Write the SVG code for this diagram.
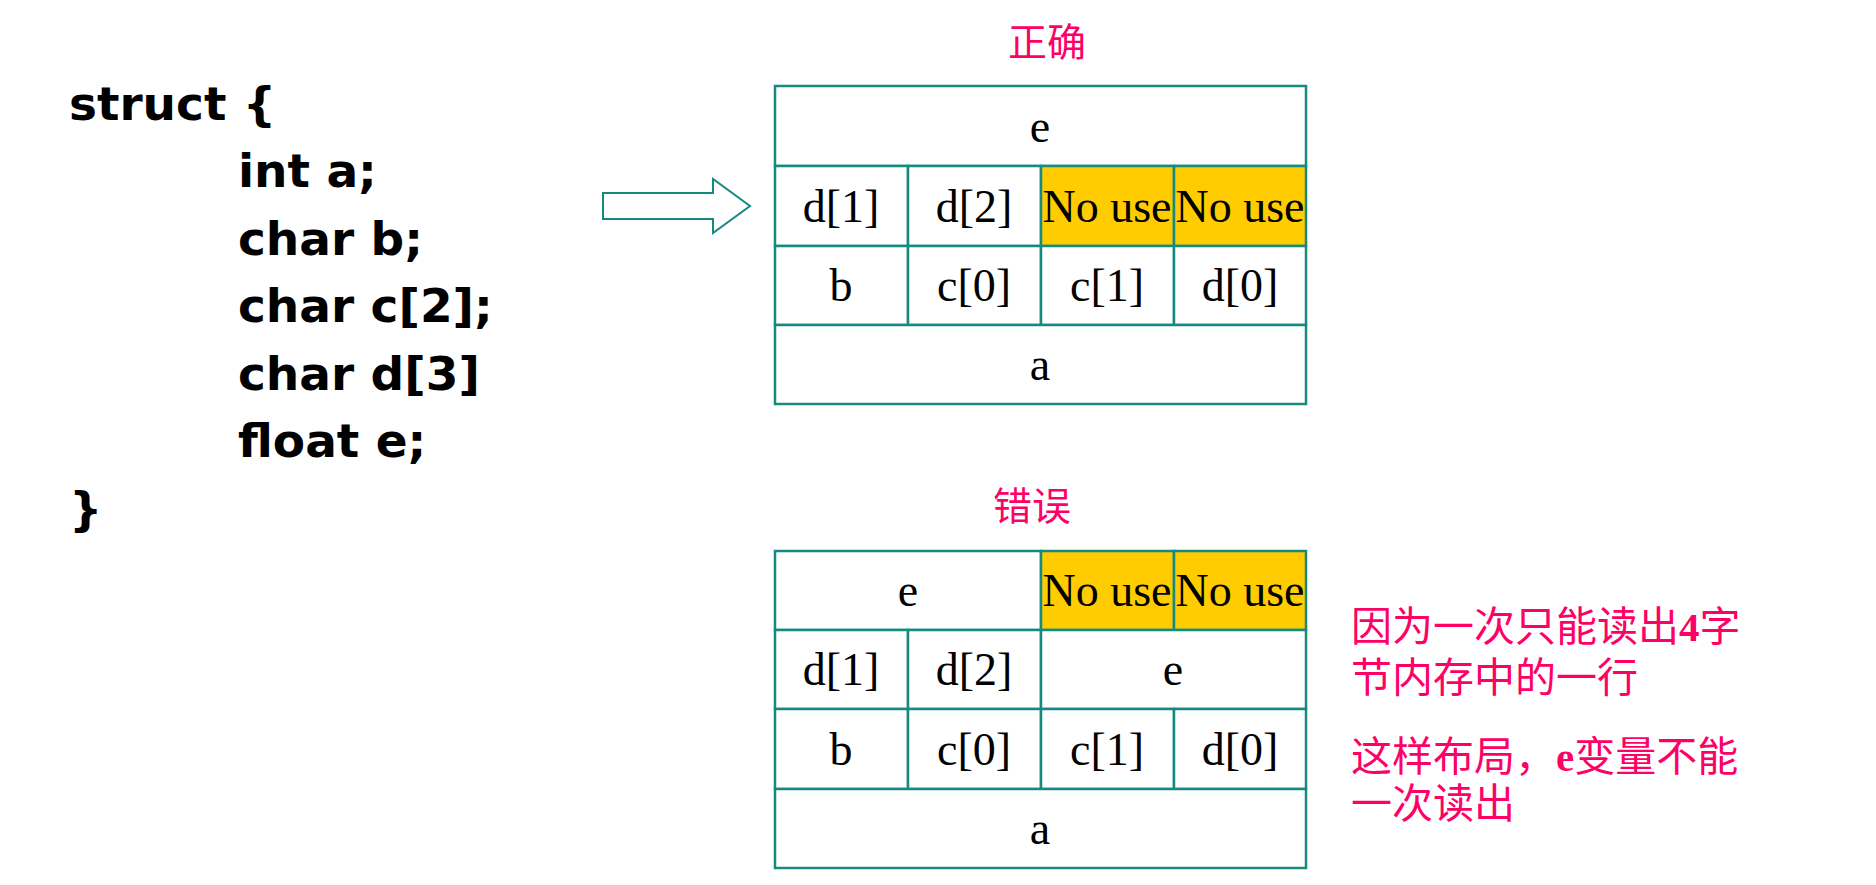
<svg xmlns="http://www.w3.org/2000/svg" width="1876" height="885" viewBox="0 0 1876 885">
<style>
.code{font-family:"DejaVu Sans","Verdana",sans-serif;font-weight:bold;font-size:47px;fill:#000}
.cell{fill:#fff;stroke:#178a80;stroke-width:2.5}
.hl{fill:#ffcc00;stroke:#178a80;stroke-width:2.5}
.t{font-family:"Liberation Serif","Times New Roman",serif;font-size:46px;fill:#000;text-anchor:middle}
.title{font-family:"Noto Sans CJK SC",sans-serif;font-size:39px;fill:#ff0066;text-anchor:middle}
.note{font-family:"Liberation Serif","Noto Sans CJK SC",sans-serif;font-size:41px;fill:#ff0066}
.b{font-family:"Liberation Serif",serif;font-weight:bold}
</style>
<rect width="1876" height="885" fill="#fff"/>
<g id="code">
<text class="code" x="69" y="120">struct {</text>
<text class="code" x="238" y="187">int a;</text>
<text class="code" x="238" y="255">char b;</text>
<text class="code" x="238" y="322">char c[2];</text>
<text class="code" x="238" y="390">char d[3]</text>
<text class="code" x="238" y="457">float e;</text>
<text class="code" x="69" y="525">}</text>
</g>
<g id="connectors">
<polygon points="603,193 713,193 713,179 750,206 713,233 713,219 603,219" fill="#fff" stroke="#178a80" stroke-width="2"/>
</g>
<g id="title-correct">
<text class="title" x="1047" y="56">正确</text>
</g>
<g id="table-correct">
<rect class="cell" x="775" y="86" width="531" height="80"/>
<text class="t" x="1040" y="142">e</text>
<rect class="cell" x="775" y="166" width="133" height="80"/>
<text class="t" x="841" y="222">d[1]</text>
<rect class="cell" x="908" y="166" width="133" height="80"/>
<text class="t" x="974" y="222">d[2]</text>
<rect class="hl" x="1041" y="166" width="133" height="80"/>
<text class="t" x="1107" y="222">No use</text>
<rect class="hl" x="1174" y="166" width="132" height="80"/>
<text class="t" x="1240" y="222">No use</text>
<rect class="cell" x="775" y="246" width="133" height="79"/>
<text class="t" x="841" y="301">b</text>
<rect class="cell" x="908" y="246" width="133" height="79"/>
<text class="t" x="974" y="301">c[0]</text>
<rect class="cell" x="1041" y="246" width="133" height="79"/>
<text class="t" x="1107" y="301">c[1]</text>
<rect class="cell" x="1174" y="246" width="132" height="79"/>
<text class="t" x="1240" y="301">d[0]</text>
<rect class="cell" x="775" y="325" width="531" height="79"/>
<text class="t" x="1040" y="380">a</text>
</g>
<g id="title-wrong">
<text class="title" x="1032" y="520">错误</text>
</g>
<g id="table-wrong">
<rect class="cell" x="775" y="551" width="266" height="79"/>
<text class="t" x="908" y="606">e</text>
<rect class="hl" x="1041" y="551" width="133" height="79"/>
<text class="t" x="1107" y="606">No use</text>
<rect class="hl" x="1174" y="551" width="132" height="79"/>
<text class="t" x="1240" y="606">No use</text>
<rect class="cell" x="775" y="630" width="133" height="79"/>
<text class="t" x="841" y="685">d[1]</text>
<rect class="cell" x="908" y="630" width="133" height="79"/>
<text class="t" x="974" y="685">d[2]</text>
<rect class="cell" x="1041" y="630" width="265" height="79"/>
<text class="t" x="1173" y="685">e</text>
<rect class="cell" x="775" y="709" width="133" height="80"/>
<text class="t" x="841" y="765">b</text>
<rect class="cell" x="908" y="709" width="133" height="80"/>
<text class="t" x="974" y="765">c[0]</text>
<rect class="cell" x="1041" y="709" width="133" height="80"/>
<text class="t" x="1107" y="765">c[1]</text>
<rect class="cell" x="1174" y="709" width="132" height="80"/>
<text class="t" x="1240" y="765">d[0]</text>
<rect class="cell" x="775" y="789" width="531" height="79"/>
<text class="t" x="1040" y="844">a</text>
</g>
<g id="note">
<text class="note" x="1351" y="641">因为一次只能读出<tspan class="b">4</tspan>字</text>
<text class="note" x="1351" y="692">节内存中的一行</text>
<text class="note" x="1351" y="771">这样布局，<tspan class="b">e</tspan>变量不能</text>
<text class="note" x="1351" y="818">一次读出</text>
</g>
</svg>
